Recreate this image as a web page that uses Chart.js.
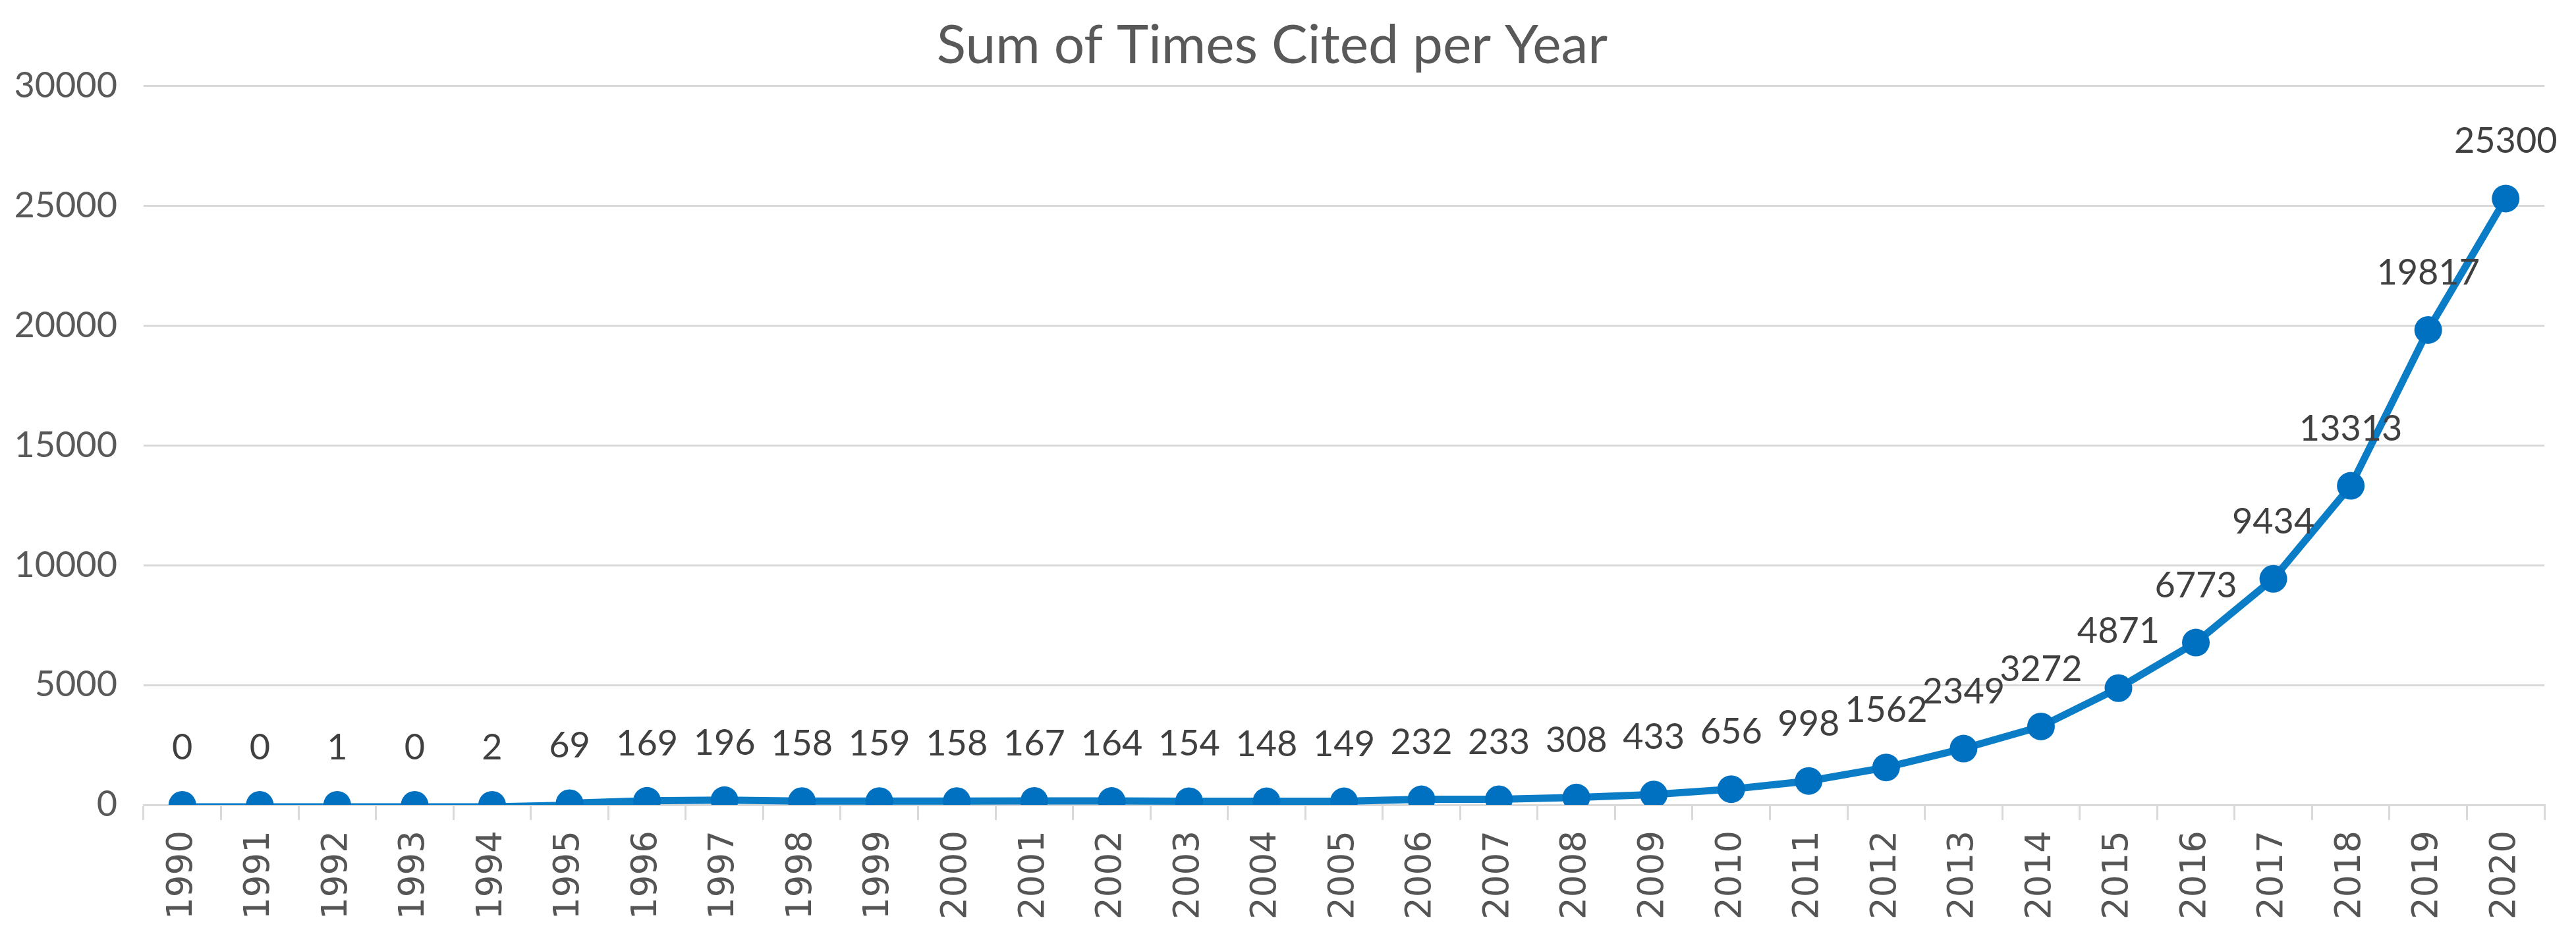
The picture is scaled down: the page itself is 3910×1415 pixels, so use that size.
<!DOCTYPE html>
<html>
<head>
<meta charset="utf-8">
<title>Sum of Times Cited per Year</title>
<script src="https://cdn.jsdelivr.net/npm/chart.js@4.4.1/dist/chart.umd.min.js"></script>
<style>
    html, body {
        margin: 0;
        padding: 0;
        background: #ffffff;
    }
    .chart-wrap {
        width: 3910px;
        height: 1415px;
    }
</style>
</head>
<body>
<div class="chart-wrap">
    <canvas id="citedChart" width="3910" height="1415"></canvas>
</div>

<script>
// ==========================================
// DATA
// ==========================================
const years = ['1990', '1991', '1992', '1993', '1994', '1995', '1996', '1997', '1998', '1999',
               '2000', '2001', '2002', '2003', '2004', '2005', '2006', '2007', '2008', '2009',
               '2010', '2011', '2012', '2013', '2014', '2015', '2016', '2017', '2018', '2019',
               '2020'];

const timesCited = [0, 0, 1, 0, 2, 69, 169, 196, 158, 159,
                    158, 167, 164, 154, 148, 149, 232, 233, 308, 433,
                    656, 998, 1562, 2349, 3272, 4871, 6773, 9434, 13313, 19817,
                    25300];

const yTicks = [0, 5000, 10000, 15000, 20000, 25000, 30000];

// ==========================================
// COLORS / FONTS
// ==========================================
const lineBlue = '#0a7dc6';
const pointBlue = '#0070c0';
const gridGray = '#d9d9d9';
const textGray = '#595959';
const labelDark = '#404040';

// draws the value above each point (no datalabels plugin offline)
const valueLabels = {
    id: 'valueLabels',
    afterDatasetsDraw(chart) {
        const ctx = chart.ctx;
        const meta = chart.getDatasetMeta(0);
        const values = chart.data.datasets[0].data;
        ctx.save();
        ctx.font = '54px Lato';
        ctx.fillStyle = labelDark;
        ctx.textAlign = 'center';
        ctx.textBaseline = 'alphabetic';
        meta.data.forEach(function(pt, i) {
            ctx.fillText(String(values[i]), pt.x, pt.y - 69);
        });
        ctx.restore();
    }
};

document.addEventListener('DOMContentLoaded', function() {
    initializeChart();
});

// ==========================================
// CHART
// ==========================================
function initializeChart() {
    const canvas = document.getElementById('citedChart');
    if (!canvas) return;

    new Chart(canvas, {
        type: 'line',
        data: {
            labels: years,
            datasets: [{
                label: 'Sum of Times Cited',
                data: timesCited,
                borderColor: lineBlue,
                borderWidth: 11,
                segment: {
                    // the flat start of the series is drawn thin in the original
                    borderWidth: ctx => (ctx.p0DataIndex < 5 ? 5 : 11)
                },
                backgroundColor: pointBlue,
                pointBackgroundColor: pointBlue,
                pointBorderWidth: 0,
                pointRadius: 21,
                tension: 0,
                fill: false
            }]
        },
        plugins: [valueLabels],
        options: {
            responsive: false,
            animation: false,
            devicePixelRatio: 1,
            layout: {
                padding: { left: 0, right: 48, top: 0, bottom: 0 }
            },
            scales: {
                x: {
                    offset: true,
                    grid: {
                        offset: true,
                        drawOnChartArea: false,
                        drawTicks: true,
                        tickLength: 23,
                        color: gridGray,
                        lineWidth: 3
                    },
                    border: {
                        display: true,
                        color: gridGray,
                        width: 3
                    },
                    ticks: {
                        color: '#555555',
                        font: { family: 'DejaVu Sans', size: 53 },
                        minRotation: 90,
                        maxRotation: 90,
                        padding: 16,
                        autoSkip: false
                    },
                    afterFit: function(scale) {
                        scale.height = 193;
                    }
                },
                y: {
                    min: 0,
                    max: 30000,
                    afterBuildTicks: function(scale) {
                        scale.ticks = yTicks.map(v => ({ value: v }));
                    },
                    grid: {
                        color: gridGray,
                        lineWidth: 3,
                        drawTicks: false
                    },
                    border: {
                        display: false
                    },
                    ticks: {
                        color: textGray,
                        font: { family: 'Lato', size: 54 },
                        padding: 40,
                        callback: function(value) {
                            return String(value);
                        }
                    },
                    afterFit: function(scale) {
                        scale.width = 218;
                    }
                }
            },
            plugins: {
                legend: {
                    display: false
                },
                tooltip: {
                    enabled: false
                },
                title: {
                    display: true,
                    text: 'Sum of Times Cited per Year',
                    color: textGray,
                    font: { family: 'Lato', size: 82, weight: 'normal' },
                    padding: { top: 20, bottom: 12 }
                }
            }
        }
    });
}
</script>
</body>
</html>
